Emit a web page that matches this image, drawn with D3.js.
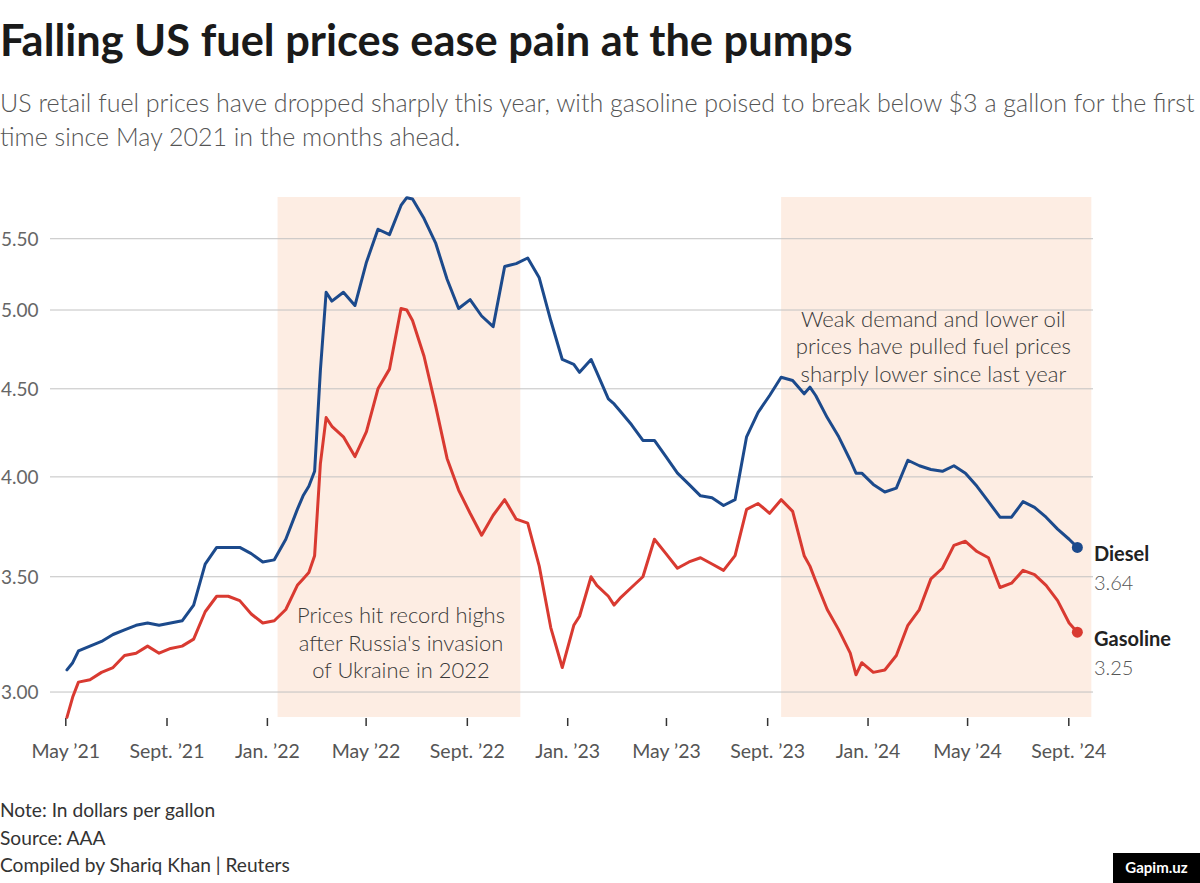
<!DOCTYPE html>
<html><head><meta charset="utf-8">
<script src="https://cdn.jsdelivr.net/npm/d3@7"></script>
<style>
body{margin:0;background:#fff;}
svg{display:block;font-family:Lato,"Noto Sans",sans-serif;}
</style></head><body>
<svg id="chart" width="1200" height="883"></svg>
<script>
const dates = ["2021-05-03","2021-05-10","2021-05-17","2021-05-31","2021-06-14","2021-06-28","2021-07-12","2021-07-26","2021-08-09","2021-08-23",
"2021-09-06","2021-09-20","2021-10-04","2021-10-18","2021-11-01","2021-11-15","2021-11-29","2021-12-13","2021-12-27","2022-01-10",
"2022-01-24","2022-02-07","2022-02-14","2022-02-21","2022-02-28","2022-03-07","2022-03-14","2022-03-21","2022-04-04","2022-04-18",
"2022-05-02","2022-05-16","2022-05-30","2022-06-13","2022-06-20","2022-06-27","2022-07-11","2022-07-25","2022-08-08","2022-08-22",
"2022-09-05","2022-09-19","2022-10-03","2022-10-17","2022-10-31","2022-11-14","2022-11-28","2022-12-12","2022-12-26","2023-01-09",
"2023-01-16","2023-01-30","2023-02-06","2023-02-20","2023-02-27","2023-03-06","2023-03-20","2023-04-03","2023-04-17","2023-05-01",
"2023-05-15","2023-05-29","2023-06-12","2023-06-26","2023-07-10","2023-07-24","2023-08-07","2023-08-21","2023-09-04","2023-09-18",
"2023-10-02","2023-10-16","2023-10-23","2023-10-30","2023-11-13","2023-11-27","2023-12-11","2023-12-18","2023-12-25","2024-01-08",
"2024-01-22","2024-02-05","2024-02-19","2024-03-04","2024-03-18","2024-04-01","2024-04-15","2024-04-29","2024-05-13","2024-05-27",
"2024-06-10","2024-06-24","2024-07-08","2024-07-22","2024-08-05","2024-08-19","2024-09-02","2024-09-12"];

const dieselPrices = [3.09,3.12,3.17,3.19,3.21,3.24,3.26,3.28,3.29,3.28,
3.29,3.30,3.37,3.56,3.64,3.64,3.64,3.61,3.57,3.58,
3.68,3.83,3.90,3.95,4.03,4.61,5.12,5.06,5.12,5.03,
5.33,5.57,5.53,5.75,5.81,5.80,5.65,5.47,5.21,5.01,
5.07,4.96,4.89,5.30,5.32,5.36,5.22,4.93,4.68,4.65,
4.60,4.68,4.60,4.44,4.41,4.37,4.29,4.20,4.20,4.11,
4.02,3.96,3.90,3.89,3.85,3.88,4.22,4.36,4.46,4.57,
4.55,4.47,4.51,4.46,4.33,4.22,4.09,4.02,4.02,3.96,
3.92,3.94,4.09,4.06,4.04,4.03,4.06,4.02,3.95,3.87,
3.79,3.79,3.87,3.84,3.79,3.73,3.68,3.64];

const gasolinePrices = [2.90,2.98,3.04,3.05,3.08,3.10,3.15,3.16,3.19,3.16,
3.18,3.19,3.22,3.34,3.41,3.41,3.39,3.33,3.29,3.30,
3.35,3.46,3.49,3.52,3.60,4.07,4.33,4.28,4.22,4.11,
4.25,4.50,4.62,5.01,5.00,4.93,4.70,4.40,4.10,3.93,
3.81,3.70,3.80,3.88,3.78,3.76,3.55,3.27,3.10,3.28,
3.32,3.50,3.46,3.41,3.37,3.40,3.45,3.50,3.68,3.61,
3.54,3.57,3.59,3.56,3.53,3.60,3.83,3.86,3.81,3.88,
3.82,3.60,3.55,3.48,3.35,3.26,3.16,3.07,3.12,3.08,
3.09,3.15,3.28,3.35,3.49,3.54,3.65,3.67,3.62,3.59,
3.45,3.47,3.53,3.51,3.46,3.39,3.29,3.25];

const seriesNames = ["Diesel","Gasoline"];
const seriesColors = ["#1c4a8c","#d93a31"];
const yTicks = [3.0,3.5,4.0,4.5,5.0,5.5];
const xTickDates = ["2021-05-01","2021-09-01","2022-01-01","2022-05-01","2022-09-01","2023-01-01","2023-05-01","2023-09-01","2024-01-01","2024-05-01","2024-09-01"];
const xTickLabels = ["May ’21","Sept. ’21","Jan. ’22","May ’22","Sept. ’22","Jan. ’23","May ’23","Sept. ’23","Jan. ’24","May ’24","Sept. ’24"];
const highlightStarts = ["2022-01-14","2023-09-18"];
const highlightEnds = ["2022-11-05","2024-09-29"];
const annotations = [
  ["Prices hit record highs","after Russia's invasion","of Ukraine in 2022"],
  ["Weak demand and lower oil","prices have pulled fuel prices","sharply lower since last year"]
];
const annotationDates = ["2022-06-13","2024-03-21"];
const annotationPrices = [3.29, 4.89];

const parse = d3.utcParse("%Y-%m-%d");
const svg = d3.select("#chart");

const x = d3.scaleUtc().domain([parse("2021-05-01"), parse("2024-09-01")]).range([65.3, 1068.3]);
const y = d3.scaleLog().domain([2.9, 5.8]).range([717.4, 199]);
const plotTop = 197, plotBottom = 717;

function fit(sel, target){
  const w = sel.node().getComputedTextLength();
  const fs = parseFloat(sel.attr("font-size"));
  return fs * target / w;
}

// Title
const title = svg.append("text").attr("x",0).attr("y",56).attr("font-size",38)
  .attr("font-weight",700).attr("fill","#1a1a1a").text("Falling US fuel prices ease pain at the pumps");
title.attr("font-size", fit(title, 853));

const sub1 = svg.append("text").attr("x",0).attr("y",112).attr("font-size",24).attr("font-weight",300)
  .attr("fill","#555").text("US retail fuel prices have dropped sharply this year, with gasoline poised to break below $3 a gallon for the first");
const subFs = fit(sub1, 1195);
sub1.attr("font-size", subFs);
svg.append("text").attr("x",0).attr("y",146).attr("font-size",subFs).attr("font-weight",300)
  .attr("fill","#555").text("time since May 2021 in the months ahead.");

// Highlight bands
svg.append("g").selectAll("rect").data(highlightStarts).join("rect")
  .attr("x", d => x(parse(d)))
  .attr("width", (d,i) => x(parse(highlightEnds[i])) - x(parse(d)))
  .attr("y", plotTop).attr("height", plotBottom - plotTop)
  .attr("fill", "#fdede3");

// Gridlines + y labels
const yg = svg.append("g");
yg.selectAll("line").data(yTicks).join("line")
  .attr("x1",50).attr("x2",1093).attr("y1",d=>y(d)).attr("y2",d=>y(d))
  .attr("stroke","#c2c2c2").attr("stroke-width",1);
yg.selectAll("text").data(yTicks).join("text")
  .attr("x",1).attr("y",d=>y(d)).attr("dy","0.38em").attr("font-size",19)
  .attr("fill","#666").text(d3.format(".2f"));

// X axis
const xAxis = svg.append("g").attr("transform","translate(0,718)")
  .call(d3.axisBottom(x).tickValues(xTickDates.map(parse)).tickFormat((d,i)=>xTickLabels[i]).tickSize(8));
xAxis.select(".domain").remove();
xAxis.selectAll(".tick line").attr("stroke","#333").attr("stroke-width",1.5);
xAxis.selectAll(".tick text").attr("y",40).attr("dy",null).attr("font-size",19.5)
  .attr("fill","#555").attr("font-family","Lato,'Noto Sans',sans-serif");

// Lines
const seriesValues = [dieselPrices, gasolinePrices];
const line = d3.line().x((d,i)=>x(parse(dates[i]))).y(d=>y(d));
svg.append("g").selectAll("path").data(seriesValues).join("path")
  .attr("d", d => line(d)).attr("fill","none")
  .attr("stroke",(d,i)=>seriesColors[i]).attr("stroke-width",3)
  .attr("stroke-linejoin","round").attr("stroke-linecap","round");

// End dots and labels
const lastDate = parse(dates[dates.length-1]);
seriesValues.forEach((vals,i)=>{
  const v = vals[vals.length-1];
  svg.append("circle").attr("cx",x(lastDate)).attr("cy",y(v)).attr("r",5.5).attr("fill",seriesColors[i]);
  svg.append("text").attr("x",1094).attr("y",y(v)+14).attr("font-size",20).attr("font-weight",700)
    .attr("fill","#222").text(seriesNames[i]);
  svg.append("text").attr("x",1094).attr("y",y(v)+43).attr("font-size",20).attr("font-weight",300)
    .attr("fill","#555").text(d3.format(".2f")(v));
});

// Annotations
const annTargets = [208, 265];
annotations.forEach((lines,i)=>{
  const cx = x(parse(annotationDates[i]));
  const y0 = y(annotationPrices[i]);
  const g = svg.append("g");
  const ts = lines.map((t,j)=>g.append("text").attr("x",cx).attr("y",y0 + j*27.7)
    .attr("text-anchor","middle").attr("font-size",21).attr("font-weight",300).attr("fill","#3a3a3a").text(t));
  const fs = fit(ts[0], annTargets[i]);
  ts.forEach(t=>t.attr("font-size",fs));
});

// Footer
const footLines = ["Note: In dollars per gallon","Source: AAA","Compiled by Shariq Khan | Reuters"];
const foot = footLines.map((t,j)=>svg.append("text").attr("x",0).attr("y",817+j*27.7)
  .attr("font-size",18).attr("fill","#333").text(t));
const ffs = fit(foot[2], 290);
foot.forEach(t=>t.attr("font-size",ffs));

// Watermark
svg.append("rect").attr("x",1113).attr("y",853).attr("width",87).attr("height",30).attr("fill","#000");
svg.append("text").attr("x",1156.5).attr("y",873).attr("text-anchor","middle").attr("font-size",15)
  .attr("font-weight",700).attr("fill","#fff").text("Gapim.uz");
</script>
</body></html>
